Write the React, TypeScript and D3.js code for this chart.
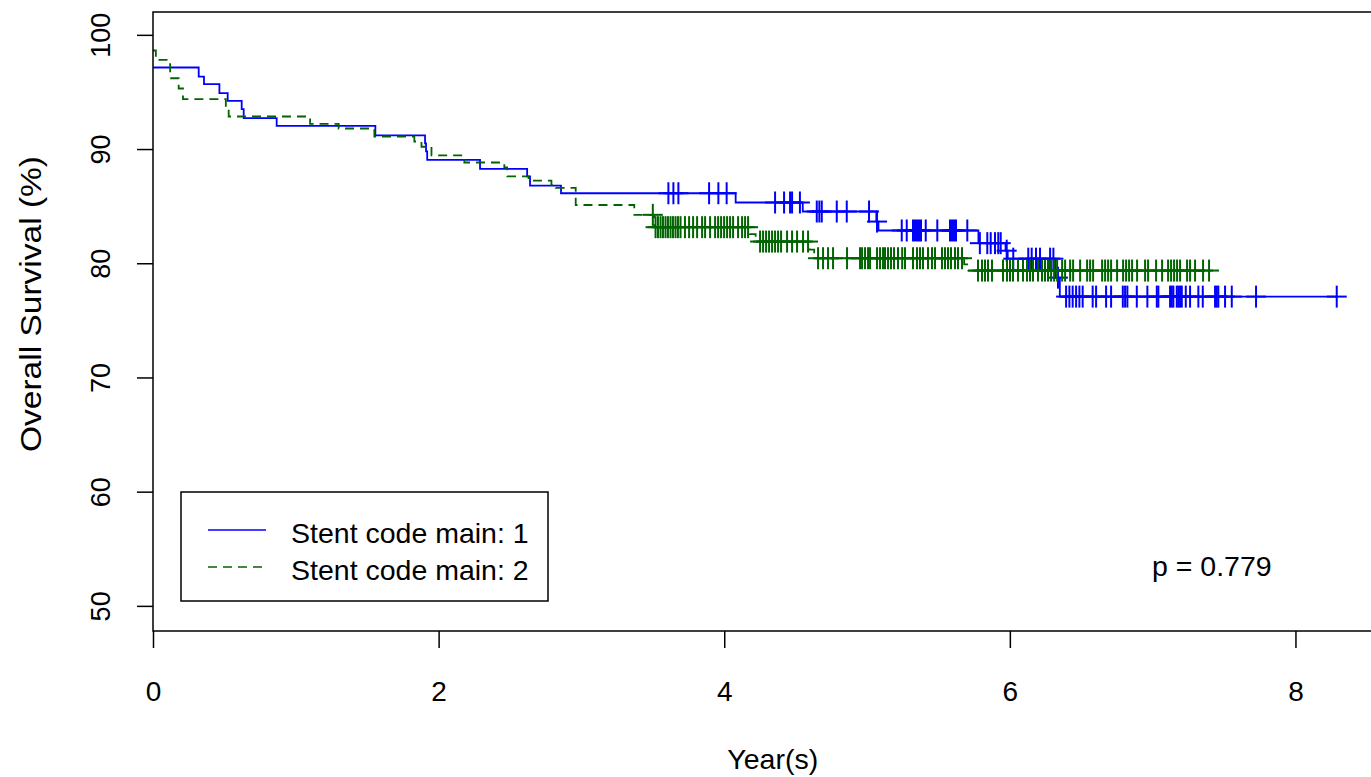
import React, { useEffect, useRef } from 'react'
import * as d3 from 'd3'

// Kaplan-Meier estimates (time in years, survival in %)
const group1Times = [0, 0.32, 0.357, 0.465, 0.523, 0.621, 0.635, 0.866, 1.557, 1.905, 1.912, 1.92, 2.29, 2.62, 2.64, 2.857, 4.08, 4.55, 5.065, 5.08, 5.78, 5.97, 5.985, 6.32, 6.35]
const group1Surv = [97.14, 96.35, 95.68, 94.89, 94.22, 93.49, 92.7, 92.03, 91.2, 90.5, 89.8, 89.05, 88.27, 87.6, 86.8, 86.13, 85.32, 84.53, 83.65, 82.87, 81.76, 81.1, 80.4, 78.74, 77.08]
const group1End = 8.289
const group1Censored = [3.609, 3.644, 3.679, 3.894, 3.959, 4.017, 4.356, 4.419, 4.461, 4.475, 4.53, 4.648, 4.666, 4.683, 4.788, 4.858, 5.014, 5.07, 5.243, 5.278, 5.322, 5.336, 5.35, 5.364, 5.378, 5.411, 5.492, 5.581, 5.595, 5.609, 5.623, 5.702, 5.79, 5.842, 5.866, 5.896, 5.919, 5.936, 5.978, 6.024, 6.129, 6.153, 6.183, 6.211, 6.282, 6.305, 6.337, 6.394, 6.417, 6.44, 6.464, 6.487, 6.51, 6.58, 6.604, 6.674, 6.709, 6.791, 6.807, 6.823, 6.889, 6.963, 7.029, 7.04, 7.122, 7.134, 7.145, 7.169, 7.18, 7.192, 7.204, 7.232, 7.262, 7.32, 7.351, 7.437, 7.449, 7.46, 7.507, 7.554, 7.724, 8.289]

const group2Times = [0, 0.02, 0.12, 0.18, 0.21, 0.51, 0.53, 1.1, 1.3, 1.55, 1.83, 1.88, 1.95, 2.18, 2.46, 2.48, 2.63, 2.79, 2.82, 2.96, 3.37, 3.51, 4.18, 4.22, 4.6, 4.63, 5.68, 5.71]
const group2Surv = [98.63, 97.8, 96.2, 95.3, 94.37, 93.67, 92.85, 92.2, 91.8, 91.1, 90.66, 90.2, 89.45, 88.82, 88.4, 87.6, 87.24, 86.87, 86.6, 85.1, 84.24, 83.16, 82.55, 81.9, 81.2, 80.44, 79.9, 79.36]
const group2End = 7.395
const group2Censored = [3.5, 3.519, 3.536, 3.554, 3.571, 3.589, 3.606, 3.624, 3.641, 3.659, 3.676, 3.694, 3.725, 3.754, 3.782, 3.81, 3.845, 3.866, 3.901, 3.936, 3.957, 3.978, 3.999, 4.02, 4.041, 4.062, 4.097, 4.125, 4.146, 4.167, 4.251, 4.272, 4.293, 4.314, 4.335, 4.356, 4.377, 4.398, 4.44, 4.475, 4.51, 4.552, 4.587, 4.657, 4.692, 4.727, 4.762, 4.86, 4.951, 4.965, 4.986, 5.007, 5.021, 5.07, 5.091, 5.112, 5.126, 5.147, 5.168, 5.189, 5.217, 5.246, 5.266, 5.322, 5.35, 5.371, 5.392, 5.427, 5.455, 5.476, 5.525, 5.546, 5.567, 5.588, 5.616, 5.637, 5.665, 5.777, 5.805, 5.826, 5.847, 5.875, 5.952, 5.98, 6.001, 6.022, 6.057, 6.092, 6.12, 6.141, 6.162, 6.197, 6.225, 6.246, 6.267, 6.289, 6.31, 6.331, 6.366, 6.387, 6.422, 6.443, 6.492, 6.541, 6.562, 6.583, 6.646, 6.667, 6.688, 6.709, 6.751, 6.793, 6.814, 6.835, 6.856, 6.891, 6.947, 6.968, 7.024, 7.066, 7.108, 7.129, 7.15, 7.171, 7.192, 7.241, 7.262, 7.297, 7.353, 7.395]

const xTicks = [0, 2, 4, 6, 8]
const yTicks = [50, 60, 70, 80, 90, 100]
const legendLabels = ['Stent code main: 1', 'Stent code main: 2']
const pValueLabel = 'p = 0.779'

const groups = [
  { times: group1Times, surv: group1Surv, end: group1End, censored: group1Censored, color: '#0000ff', dash: null },
  { times: group2Times, surv: group2Surv, end: group2End, censored: group2Censored, color: '#006400', dash: '9,6' }
]

const W = 1371
const H = 777
const FONT = '"Liberation Sans", Arial, sans-serif'

export default function App () {
  const ref = useRef<SVGSVGElement>(null)

  useEffect(() => {
    const svg = d3.select(ref.current)
    svg.selectAll('*').remove()

    const margin = { top: 12, right: -13, bottom: 146, left: 153 }
    const x = d3.scaleLinear().domain([0, 8.62]).range([margin.left, W - margin.right])
    const y = d3.scaleLinear().domain([47.8, 102]).range([H - margin.bottom, margin.top])

    svg.append('rect').attr('width', W).attr('height', H).attr('fill', '#fff')

    const plot = svg.append('g')

    // curves
    groups.forEach(g => {
      const pts: [number, number][] = g.times.map((t, i) => [t, g.surv[i]])
      pts.push([g.end, g.surv[g.surv.length - 1]])
      const line = d3.line<[number, number]>()
        .x(d => x(d[0]))
        .y(d => y(d[1]))
        .curve(d3.curveStepAfter)
      plot.append('path')
        .attr('d', line(pts))
        .attr('fill', 'none')
        .attr('stroke', g.color)
        .attr('stroke-width', 1.8)
        .attr('stroke-dasharray', g.dash)

      // censoring marks (+)
      const bis = d3.bisector((t: number) => t).right
      const marks = plot.append('g').attr('stroke', g.color).attr('stroke-width', 2)
      g.censored.forEach(t => {
        const s = g.surv[bis(g.times, t) - 1]
        const cx = x(t)
        const cy = y(s)
        marks.append('line').attr('x1', cx).attr('x2', cx).attr('y1', cy - 11).attr('y2', cy + 11)
        marks.append('line').attr('x1', cx - 10).attr('x2', cx + 10).attr('y1', cy).attr('y2', cy)
      })
    })

    // box
    svg.append('rect')
      .attr('x', margin.left)
      .attr('y', margin.top)
      .attr('width', W - margin.right - margin.left)
      .attr('height', H - margin.bottom - margin.top)
      .attr('fill', 'none')
      .attr('stroke', '#000')
      .attr('stroke-width', 1.5)

    // x axis
    const xAxis = svg.append('g')
      .attr('transform', `translate(0,${H - margin.bottom})`)
      .call(d3.axisBottom(x).tickValues(xTicks).tickSize(17).tickPadding(0).tickFormat(d3.format('d')))
    xAxis.select('.domain').remove()
    xAxis.selectAll('line').attr('stroke', '#000').attr('stroke-width', 1.5)
    xAxis.selectAll('text')
      .attr('font-family', FONT)
      .attr('font-size', 28)
      .attr('fill', '#000')
      .attr('dy', 0)
      .attr('y', 70)

    // y axis
    const yAxis = svg.append('g')
      .attr('transform', `translate(${margin.left},0)`)
      .call(d3.axisLeft(y).tickValues(yTicks).tickSize(16).tickFormat(d3.format('d')))
    yAxis.select('.domain').remove()
    yAxis.selectAll('line').attr('stroke', '#000').attr('stroke-width', 1.5)
    yAxis.selectAll('text')
      .attr('font-family', FONT)
      .attr('font-size', 27)
      .attr('fill', '#000')
      .attr('x', 0)
      .attr('dy', 0)
      .attr('text-anchor', 'middle')
      .attr('transform', 'translate(-43,0) rotate(-90)')

    // axis titles
    svg.append('text')
      .attr('x', x(4.34))
      .attr('y', 769)
      .attr('text-anchor', 'middle')
      .attr('font-family', FONT)
      .attr('font-size', 28.5)
      .text('Year(s)')

    svg.append('text')
      .attr('transform', `translate(41,304) rotate(-90)`)
      .attr('text-anchor', 'middle')
      .attr('font-family', FONT)
      .attr('font-size', 29)
      .attr('textLength', 296)
      .attr('lengthAdjust', 'spacingAndGlyphs')
      .text('Overall Survival (%)')

    // legend
    const legend = svg.append('g').attr('transform', 'translate(181,492)')
    legend.append('rect')
      .attr('width', 367)
      .attr('height', 109)
      .attr('fill', '#fff')
      .attr('stroke', '#000')
      .attr('stroke-width', 1.5)
    legendLabels.forEach((label, i) => {
      const ly = 38 + i * 37
      legend.append('line')
        .attr('x1', 27).attr('x2', 85)
        .attr('y1', ly).attr('y2', ly)
        .attr('stroke', groups[i].color)
        .attr('stroke-width', 1.6)
        .attr('stroke-dasharray', groups[i].dash)
      legend.append('text')
        .attr('x', 110)
        .attr('y', ly + 13)
        .attr('font-family', FONT)
        .attr('font-size', 28.5)
        .text(label)
    })

    svg.append('text')
      .attr('x', 1152)
      .attr('y', 576)
      .attr('font-family', FONT)
      .attr('font-size', 28.5)
      .text(pValueLabel)
  }, [])

  return (
    <svg ref={ref} width={W} height={H} style={{ position: 'absolute', left: 0, top: 0, display: 'block' }} />
  )
}
